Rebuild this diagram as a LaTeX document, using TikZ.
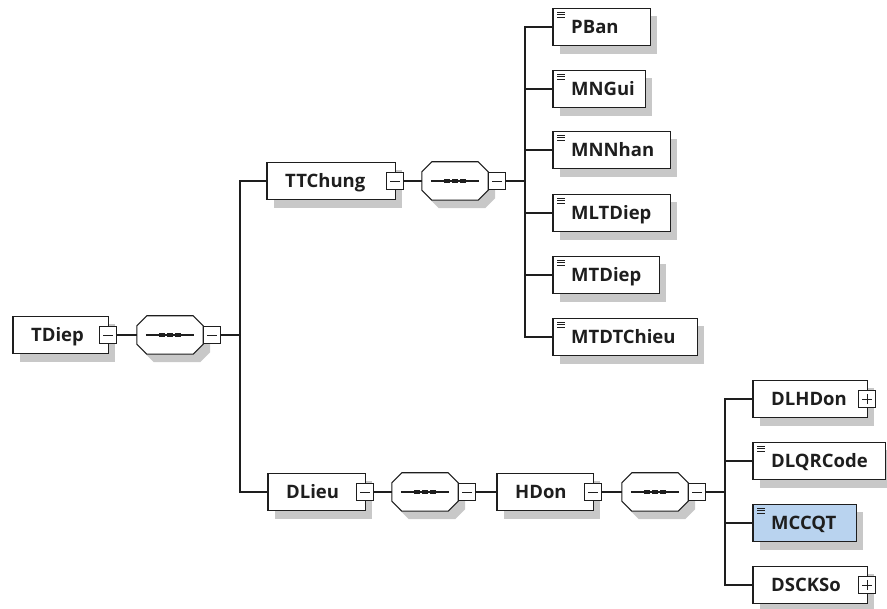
\documentclass[tikz,border=0pt]{standalone}
\usepackage{fontspec}
\setmainfont{Open Sans}
\usetikzlibrary{calc}
\pgfdeclarelayer{background}
\pgfsetlayers{background,main}
\definecolor{selblue}{HTML}{B9D3EF}
\definecolor{shadowgray}{HTML}{C8C8C8}
\definecolor{ink}{HTML}{1E1E1E}
\newcommand{\octpath}[3]{([xshift=10pt+#2,yshift=#3]#1.north west) -- ([xshift=-10pt+#2,yshift=#3]#1.north east) -- ([xshift=#2,yshift=-10pt+#3]#1.north east) -- ([xshift=#2,yshift=10pt+#3]#1.south east) -- ([xshift=-10pt+#2,yshift=#3]#1.south east) -- ([xshift=10pt+#2,yshift=#3]#1.south west) -- ([xshift=#2,yshift=10pt+#3]#1.south west) -- ([xshift=#2,yshift=-10pt+#3]#1.north west) -- cycle}
\begin{document}
\begin{tikzpicture}[x=1pt,y=-1pt,
  elem/.style={minimum height=37pt,
    inner xsep=18pt, inner ysep=0pt, align=left, text height=13pt, text depth=0pt,
    font=\bfseries\fontsize{18.5}{20}\selectfont, text=ink, anchor=west},
  seqbox/.style={draw=none, minimum width=66pt, minimum height=38pt, inner sep=0pt},
  tog/.style={draw=ink, fill=white, line width=0.9pt, minimum size=17pt, inner sep=0pt},
  conn/.style={draw=ink, line width=1.4pt},
  togmark/.style={draw=ink, line width=0.9pt},
  iconline/.style={draw=ink, line width=0.8pt}]
\begin{pgfonlayer}{background}
\fill[white] (0,0) rectangle (887,609);
\end{pgfonlayer}
\useasboundingbox (0,0) rectangle (887,609);

% ---- element boxes and compositors
\node[elem, text width=59pt] (tdiep) at (13,335) {TDiep};
\node[seqbox] (s1) at (170,335) {};
\node[elem, text width=92pt] (ttchung) at (267,181) {TTChung};
\node[seqbox] (s2) at (455,181) {};
\node[elem, text width=61pt] (pban) at (553,27) {PBan};
\node[elem, text width=56pt] (mngui) at (553,89) {MNGui};
\node[elem, text width=81pt] (mnnhan) at (553,150) {MNNhan};
\node[elem, text width=81pt] (mltdiep) at (553,213) {MLTDiep};
\node[elem, text width=70pt] (mtdiep) at (553,275) {MTDiep};
\node[elem, text width=108pt] (mtdtchieu) at (553,337) {MTDTChieu};
\node[elem, text width=61pt] (dlieu) at (268,492) {DLieu};
\node[seqbox] (s3) at (425,492) {};
\node[elem, text width=60pt] (hdon) at (497,492) {HDon};
\node[seqbox] (s4) at (655,492) {};
\node[elem, text width=78pt] (dlhdon) at (753,399) {DLHDon};
\node[elem, text width=96pt] (dlqrcode) at (753,461) {DLQRCode};
\node[elem, text width=67pt] (mccqt) at (753,523) {MCCQT};
\node[elem, text width=78pt] (dsckso) at (753,585) {DSCKSo};

% ---- shadows and frames behind the labels
\begin{pgfonlayer}{background}
\foreach \e in {tdiep,ttchung,pban,mngui,mnnhan,mltdiep,mtdiep,mtdtchieu,dlieu,hdon,dlhdon,dlqrcode,mccqt,dsckso}{
  \fill[shadowgray] ([xshift=7pt,yshift=-8pt]\e.north west) rectangle ([xshift=7pt,yshift=-8pt]\e.south east);
}
\foreach \s in {s1,s2,s3,s4}{
  \fill[shadowgray] \octpath{\s}{7pt}{-8pt};
}
\foreach \e in {tdiep,ttchung,pban,mngui,mnnhan,mltdiep,mtdiep,mtdtchieu,dlieu,hdon,dlhdon,dlqrcode,dsckso}{
  \draw[ink, fill=white, line width=1.1pt] (\e.north west) rectangle (\e.south east);
}
\draw[ink, fill=selblue, line width=1.1pt] (mccqt.north west) rectangle (mccqt.south east);
\foreach \s in {s1,s2,s3,s4}{
  \draw[ink, fill=white, line width=1.1pt] \octpath{\s}{0pt}{0pt};
}
\end{pgfonlayer}

% ---- toggles
\node[tog] (tdiepT) at (tdiep.east) {};
\node[tog, anchor=west] (s1T) at (s1.east) {};
\node[tog] (ttchungT) at (ttchung.east) {};
\node[tog, anchor=west] (s2T) at (s2.east) {};
\node[tog] (dlieuT) at (dlieu.east) {};
\node[tog, anchor=west] (s3T) at (s3.east) {};
\node[tog] (hdonT) at (hdon.east) {};
\node[tog, anchor=west] (s4T) at (s4.east) {};
\node[tog] (dlhdonT) at (dlhdon.east) {};
\node[tog] (dscksoT) at (dsckso.east) {};

\foreach \t in {tdiepT,s1T,ttchungT,s2T,dlieuT,s3T,hdonT,s4T}{
  \draw[togmark] ([xshift=-5pt]\t.center) -- ([xshift=5pt]\t.center);
}
\foreach \t in {dlhdonT,dscksoT}{
  \draw[togmark] ([xshift=-5pt]\t.center) -- ([xshift=5pt]\t.center);
  \draw[togmark] ([yshift=-5pt]\t.center) -- ([yshift=5pt]\t.center);
}

% ---- sequence compositor marks
\foreach \s in {s1,s2,s3,s4}{
  \draw[ink, line width=1.1pt] ([xshift=9pt]\s.west) -- ([xshift=-9pt]\s.east);
  \foreach \dx in {-8,0,8}{
    \fill[ink] ([xshift=\dx pt]\s.center) +(-2.7pt,-2.4pt) rectangle +(2.7pt,2.4pt);
  }
}

% ---- element icons
\foreach \e in {pban,mngui,mnnhan,mltdiep,mtdiep,mtdtchieu,dlqrcode,mccqt}{
  \foreach \dy in {4,6.5,9}{
    \draw[iconline] ([xshift=4pt,yshift=-\dy pt]\e.north west) -- ++(8,0);
  }
}

% ---- connectors
\coordinate (v1) at (240,335);
\coordinate (v2) at (525,181);
\coordinate (v4) at (725,492);
\draw[conn] (tdiepT.east) -- (s1.west);
\draw[conn] (s1T.east) -- (v1);
\draw[conn] (ttchung.west) -| (v1) |- (dlieu.west);
\draw[conn] (ttchungT.east) -- (s2.west);
\draw[conn] (s2T.east) -- (v2);
\draw[conn] (v2) |- (pban.west);
\draw[conn] (v2) |- (mngui.west);
\draw[conn] (v2) |- (mnnhan.west);
\draw[conn] (v2) |- (mltdiep.west);
\draw[conn] (v2) |- (mtdiep.west);
\draw[conn] (v2) |- (mtdtchieu.west);
\draw[conn] (dlieuT.east) -- (s3.west);
\draw[conn] (s3T.east) -- (hdon.west);
\draw[conn] (hdonT.east) -- (s4.west);
\draw[conn] (s4T.east) -- (v4);
\draw[conn] (v4) |- (dlhdon.west);
\draw[conn] (v4) |- (dlqrcode.west);
\draw[conn] (v4) |- (mccqt.west);
\draw[conn] (v4) |- (dsckso.west);
\end{tikzpicture}
\end{document}
